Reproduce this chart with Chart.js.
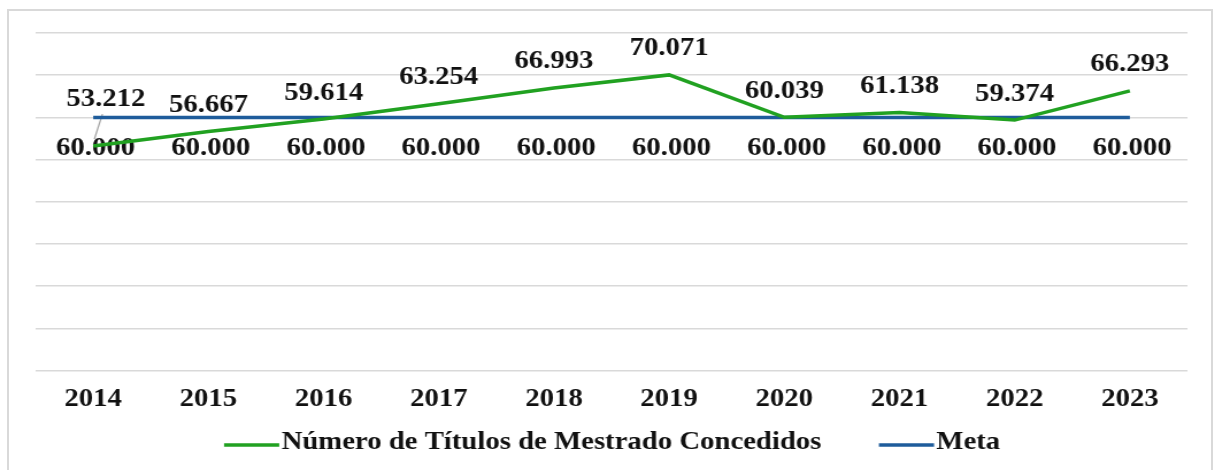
<!DOCTYPE html>
<html lang="pt-BR">
<head>
<meta charset="utf-8">
<script src="https://cdn.jsdelivr.net/npm/chart.js@4.4.1/dist/chart.umd.min.js"></script>
<style>
  html, body { margin: 0; padding: 0; background: #fff; }
  #page { position: relative; width: 1215px; height: 470px; overflow: hidden; }
  #frame {
    position: absolute; left: 7px; top: 9px; width: 1206px; height: 500px;
    border: 2px solid #d9d9d9; box-sizing: border-box;
  }
  /* the original picture is stretched sideways a little */
  #wrap {
    position: absolute; left: 0; top: 0; width: 1057px; height: 470px;
    transform: scaleX(1.1495); transform-origin: 0 0;
  }
</style>
</head>
<body>
<div id="page">
  <div id="frame"></div>
  <div id="wrap"><canvas id="chart-mestrado"></canvas></div>
</div>
<script>
const anos = ["2014", "2015", "2016", "2017", "2018", "2019", "2020", "2021", "2022", "2023"];
const titulosConcedidos = [53212, 56667, 59614, 63254, 66993, 70071, 60039, 61138, 59374, 66293];
const meta = [60000, 60000, 60000, 60000, 60000, 60000, 60000, 60000, 60000, 60000];
const yMin = 0;
const yMax = 80000;
const yStep = 10000;

const serif = "'Liberation Serif', 'Times New Roman', serif";
const verde = "#21a121";
const azul = "#1e5c9b";

function formatNumero(value) {
  return String(value).replace(/\B(?=(\d{3})+(?!\d))/g, ".");
}

// rótulos de valor (acima da série verde, abaixo da meta)
const valueLabels = {
  id: "valueLabels",
  beforeDatasetsDraw(chart) {
    const { ctx } = chart;
    ctx.save();
    ctx.font = `bold 25px ${serif}`;
    ctx.fillStyle = "#111";
    ctx.textAlign = "center";
    ctx.textBaseline = "middle";

    chart.getDatasetMeta(0).data.forEach((pt, i) => {
      let x = pt.x;
      let y = pt.y - 26;
      if (i === 0) {
        // first label sits higher, with a leader line
        x += 11;
        y = pt.y - 47;
        ctx.strokeStyle = "#a6a6a6";
        ctx.lineWidth = 1.3;
        ctx.beginPath();
        ctx.moveTo(x - 3, y + 15);
        ctx.lineTo(pt.x + 1, pt.y - 7);
        ctx.stroke();
      }
      ctx.fillText(formatNumero(titulosConcedidos[i]), x, y);
    });

    chart.getDatasetMeta(1).data.forEach((pt, i) => {
      ctx.fillText(formatNumero(meta[i]), pt.x + 2, pt.y + 31);
    });
    ctx.restore();
  },
};

// legenda com traço de linha
const lineLegend = {
  id: "lineLegend",
  afterDraw(chart) {
    const { ctx, width } = chart;
    const items = chart.data.datasets.map((ds) => ({ text: ds.label, color: ds.borderColor }));
    const lineLen = 48;
    const gap = 2;
    const itemGap = 50;
    const y = 445;
    ctx.save();
    ctx.font = `bold 25px ${serif}`;
    const widths = items.map((it) => lineLen + gap + ctx.measureText(it.text).width);
    const total = widths.reduce((a, b) => a + b, 0) + itemGap * (items.length - 1);
    let x = (width - total) / 2 + 4;
    items.forEach((it, i) => {
      ctx.strokeStyle = it.color;
      ctx.lineWidth = 3.5;
      ctx.beginPath();
      ctx.moveTo(x, y);
      ctx.lineTo(x + lineLen, y);
      ctx.stroke();
      ctx.fillStyle = "#111";
      ctx.textAlign = "left";
      ctx.textBaseline = "middle";
      ctx.fillText(it.text, x + lineLen + gap, y - 2);
      x += widths[i] + itemGap;
    });
    ctx.restore();
  },
};

const ctx = document.getElementById("chart-mestrado");
new Chart(ctx, {
  type: "line",
  data: {
    labels: anos,
    datasets: [
      {
        label: "Número de Títulos de Mestrado Concedidos",
        data: titulosConcedidos,
        borderColor: verde,
        backgroundColor: verde,
        borderWidth: 3.5,
        pointRadius: 0,
        tension: 0,
      },
      {
        label: "Meta",
        data: meta,
        borderColor: azul,
        backgroundColor: azul,
        borderWidth: 3.5,
        pointRadius: 0,
        tension: 0,
      },
    ],
  },
  options: {
    responsive: true,
    maintainAspectRatio: false,
    animation: false,
    layout: { padding: { left: 31, right: 24, top: 33, bottom: 0 } },
    plugins: {
      legend: { display: false },
      tooltip: { enabled: false },
    },
    scales: {
      x: {
        offset: true,
        grid: { display: false, drawTicks: false },
        border: { display: false },
        ticks: {
          padding: 14,
          color: "#111",
          font: { family: serif, size: 25, weight: "bold" },
        },
        afterFit: (scale) => { scale.height = 99.3; },
      },
      y: {
        min: yMin,
        max: yMax,
        ticks: { display: false, stepSize: yStep },
        grid: { color: "#d9d9d9", lineWidth: 1.6, drawTicks: false },
        border: { display: false },
        afterFit: (scale) => { scale.width = 0; },
      },
    },
  },
  plugins: [valueLabels, lineLegend],
});
</script>
</body>
</html>
